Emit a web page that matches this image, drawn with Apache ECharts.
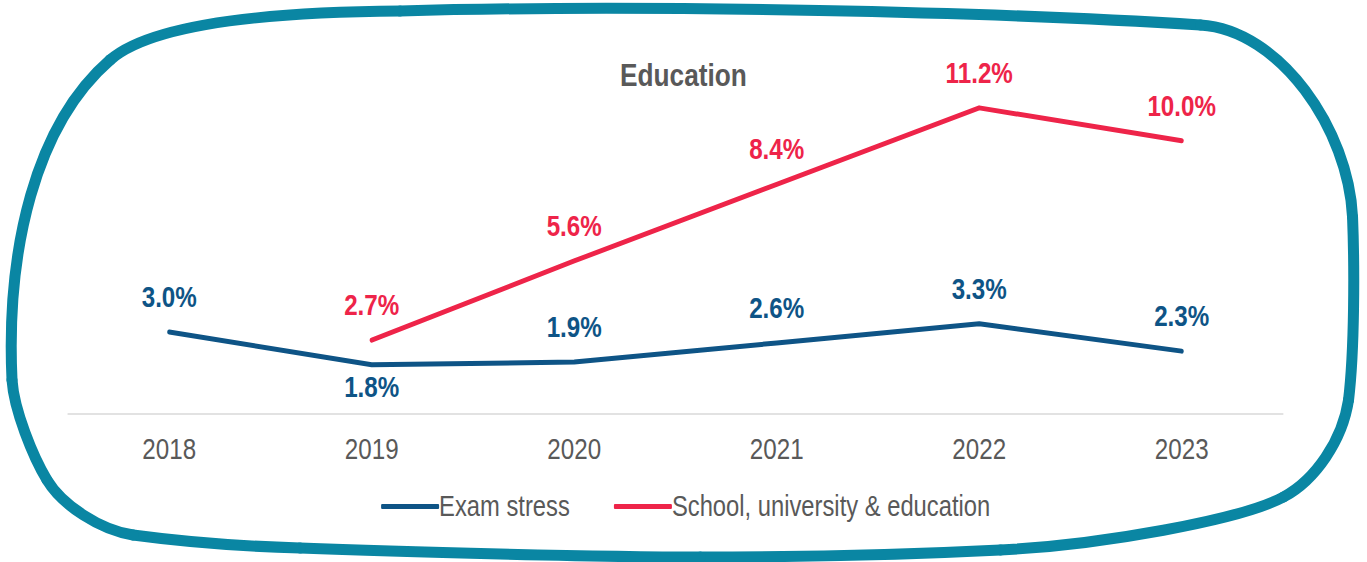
<!DOCTYPE html>
<html>
<head>
<meta charset="utf-8">
<script src="https://cdn.jsdelivr.net/npm/echarts@6/dist/echarts.min.js"></script>
<style>
  html, body { margin: 0; padding: 0; background: #ffffff; overflow: hidden; }
  #wrap { width: 1367px; height: 562px; overflow: hidden; position: relative; }
  /* the chart is laid out wider, then condensed horizontally for a narrow typeface */
  #chart { width: 1667px; height: 562px; transform: scaleX(0.82); transform-origin: 0 0; }
</style>
</head>
<body>
<div id="wrap"><div id="chart"></div></div>
<script>
// Survey years
const years = ['2018', '2019', '2020', '2021', '2022', '2023'];
// Share of contacts by topic (%)
const examStress = [3.0, 1.8, 1.9, 2.6, 3.3, 2.3];
const schoolEducation = [null, 2.7, 5.6, 8.4, 11.2, 10.0];
const seriesNames = ['Exam stress', 'School, university & education'];
const chartTitle = 'Education';

const SX = 0.82;               // horizontal condensing applied by CSS
const px = v => v / SX;        // page pixels -> chart pixels (x direction)

const FONT = "'Liberation Sans', Arial, sans-serif";
const BLUE = '#0E5486';
const RED = '#EE2449';
const GREY = '#595959';
const TEAL = '#0A86A3';

// label placement for each exam-stress point
const examLabelPos = ['top', 'bottom', 'top', 'top', 'top', 'top'];

const pct = p => p.value == null ? '' : p.value.toFixed(1) + '%';

const labelStyle = (color) => ({
  show: true,
  position: 'top',
  distance: 20,
  color: color,
  fontFamily: FONT,
  fontWeight: 'bold',
  fontSize: 29.5,
  formatter: pct
});

// frame outline as cubic segments [x1,y1, cp1x,cp1y, cp2x,cp2y, x2,y2], page pixels
const frameSegments = [
  [400, 11, 650, 4, 1000, 12, 1200, 25],
  [1200, 25, 1280, 30, 1348, 130, 1352, 217],
  [1352, 217, 1354, 267, 1354, 350, 1348, 400],
  [1348, 400, 1342, 440, 1315, 480, 1283, 497],
  [1283, 497, 1240, 520, 1100, 545, 1000, 550],
  [1000, 550, 900, 555, 800, 557, 700, 557],
  [700, 557, 600, 557, 400, 552, 300, 548],
  [300, 548, 230, 546, 170, 540, 133, 535],
  [133, 535, 100, 530, 62, 505, 47, 480],
  [47, 480, 33, 457, 14, 410, 12, 380],
  [12, 380, 6, 250, 35, 125, 110, 60],
  [110, 60, 150, 25, 260, 12, 400, 11]
];

const chart = echarts.init(document.getElementById('chart'), null, { renderer: 'svg' });

chart.setOption({
  backgroundColor: '#ffffff',
  animation: false,
  title: {
    text: chartTitle,
    left: 'center',
    top: 54,
    textStyle: { fontFamily: FONT, fontWeight: 'bold', fontSize: 32, color: GREY }
  },
  legend: {
    bottom: 36,
    left: px(377),
    itemWidth: px(58),
    itemHeight: 5,
    itemGap: px(44),
    icon: 'roundRect',
    textStyle: { fontFamily: FONT, fontSize: 29, color: GREY, padding: [0, 0, 0, -5] },
    data: seriesNames
  },
  grid: { left: px(68), right: px(84), top: 86, bottom: 148 },
  xAxis: {
    type: 'category',
    data: years,
    boundaryGap: true,
    axisLine: { show: true, lineStyle: { color: '#D9D9D9', width: 1.5 } },
    axisTick: { show: false },
    axisLabel: { color: GREY, fontFamily: FONT, fontSize: 29.5, margin: 20 }
  },
  yAxis: {
    type: 'value',
    min: 0,
    max: 12,
    show: false,
    splitLine: { show: false }
  },
  series: [
    {
      name: seriesNames[0],
      type: 'line',
      data: examStress.map((v, i) => ({
        value: v,
        label: { position: examLabelPos[i], distance: examLabelPos[i] === 'bottom' ? 7 : 20 }
      })),
      showSymbol: true,
      symbol: 'circle',
      symbolSize: 0,
      lineStyle: { color: BLUE, width: 5, cap: 'round', join: 'round' },
      itemStyle: { color: BLUE },
      label: labelStyle(BLUE),
      z: 3
    },
    {
      name: seriesNames[1],
      type: 'line',
      data: schoolEducation,
      showSymbol: true,
      symbol: 'circle',
      symbolSize: 0,
      lineStyle: { color: RED, width: 5, cap: 'round', join: 'round' },
      itemStyle: { color: RED },
      label: labelStyle(RED),
      z: 4
    }
  ],
  graphic: [
    {
      // rounded hand-drawn frame around the chart
      type: 'group',
      silent: true,
      x: 0,
      y: 0,
      scaleX: 1 / SX,
      z: 0,
      children: frameSegments.map(s => ({
        type: 'bezierCurve',
        shape: { x1: s[0], y1: s[1], cpx1: s[2], cpy1: s[3], cpx2: s[4], cpy2: s[5], x2: s[6], y2: s[7] },
        style: { fill: null, stroke: TEAL, lineWidth: 11, lineCap: 'round' }
      }))
    }
  ]
});
</script>
</body>
</html>
